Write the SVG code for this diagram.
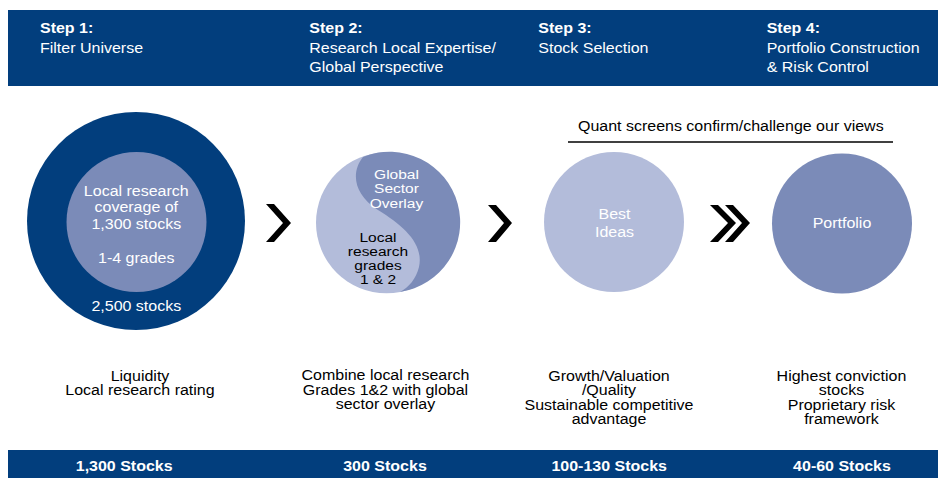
<svg xmlns="http://www.w3.org/2000/svg" width="940" height="478" viewBox="0 0 940 478">
<style>
text{font-family:"Liberation Sans",Arial,Helvetica,sans-serif;font-size:16px;transform:scale(1,0.87);transform-box:fill-box;transform-origin:center}
.hd{fill:#ffffff}
.b{font-weight:bold}
.w{fill:#ffffff;text-anchor:middle}
.k{fill:#000000;text-anchor:middle}
.sm{font-size:15.5px}
.bar{fill:#023e7d}
.mid{fill:#7b8bb8}
.lt{fill:#b3bcda}
.chev{fill:#000000}
</style>
<rect class="bar" x="8" y="10" width="930" height="76"/>
<rect class="bar" x="8" y="450" width="930" height="28"/>

<g id="headers">
<text class="hd b" x="40" y="34">Step 1:</text>
<text class="hd" x="40" y="53.4">Filter Universe</text>
<text class="hd b" x="309.3" y="34">Step 2:</text>
<text class="hd" x="309.3" y="53.4">Research Local Expertise/</text>
<text class="hd" x="309.3" y="72.4">Global Perspective</text>
<text class="hd b" x="538.3" y="34">Step 3:</text>
<text class="hd" x="538.3" y="53.4">Stock Selection</text>
<text class="hd b" x="766.7" y="34">Step 4:</text>
<text class="hd" x="766.7" y="53.4">Portfolio Construction</text>
<text class="hd" x="766.7" y="72.4">&amp; Risk Control</text>
</g>

<g id="node-universe">
<circle class="bar" cx="136" cy="221" r="109"/>
<circle class="mid" cx="136.5" cy="222" r="70"/>
<text class="w" x="136.3" y="196.3">Local research</text>
<text class="w" x="136.3" y="213">coverage of</text>
<text class="w" x="136.3" y="230">1,300 stocks</text>
<text class="w" x="136.3" y="264">1-4 grades</text>
<text class="w" x="136.3" y="312">2,500 stocks</text>
</g>

<g id="node-research">
<circle class="lt" cx="386.5" cy="222.8" r="70.5"/>
<path class="mid" d="M363,157 C351,172 353,194 378,210 C404,226 424,244 419,267 C416,279 409,287 400,292 A70.5,70.5 0 1 0 363,157 Z"/>
<text class="w sm" x="396.5" y="179.7">Global</text>
<text class="w sm" x="396.5" y="194.2">Sector</text>
<text class="w sm" x="396.5" y="208.4">Overlay</text>
<text class="k sm" x="378" y="242.2">Local</text>
<text class="k sm" x="378" y="256.5">research</text>
<text class="k sm" x="378" y="270.6">grades</text>
<text class="k sm" x="378" y="284.8">1 &amp; 2</text>
</g>

<g id="node-best">
<circle class="lt" cx="614" cy="222" r="70"/>
<text class="w" x="614.5" y="219.7">Best</text>
<text class="w" x="614.5" y="238">Ideas</text>
</g>

<g id="node-portfolio">
<circle class="mid" cx="842" cy="223.5" r="70"/>
<text class="w" x="842" y="229">Portfolio</text>
</g>

<g id="quant">
<text class="k" x="730.8" y="131.4">Quant screens confirm/challenge our views</text>
</g>

<g id="connectors">
<line x1="568" y1="142" x2="893" y2="142" stroke="#000" stroke-width="1.5"/>
<polygon class="chev" points="266,204 274,204 291,223 274,242 266,242 283,223"/>
<polygon class="chev" points="488,205 496,205 512,223 496,242 488,242 504,223"/>
<polygon class="chev" points="710,205 718,205 736,223 718,242 710,242 728,223"/>
<polygon class="chev" points="725,205 733,205 750,223 733,242 725,242 742,223"/>
</g>

<g id="descriptions">
<text class="k" x="140" y="381.7">Liquidity</text>
<text class="k" x="140" y="396.2">Local research rating</text>
<text class="k" x="385.5" y="381.2">Combine local research</text>
<text class="k" x="385.5" y="395.7">Grades 1&amp;2 with global</text>
<text class="k" x="385.5" y="410.2">sector overlay</text>
<text class="k" x="609" y="381.7">Growth/Valuation</text>
<text class="k" x="609" y="395.9">/Quality</text>
<text class="k" x="609" y="410.7">Sustainable competitive</text>
<text class="k" x="609" y="425">advantage</text>
<text class="k" x="841.5" y="381.7">Highest conviction</text>
<text class="k" x="841.5" y="396.2">stocks</text>
<text class="k" x="841.5" y="410.7">Proprietary risk</text>
<text class="k" x="841.5" y="425.2">framework</text>
</g>

<g id="counts">
<text class="w b" x="124.2" y="471.4">1,300 Stocks</text>
<text class="w b" x="385" y="471.4">300 Stocks</text>
<text class="w b" x="609.2" y="471.4">100-130 Stocks</text>
<text class="w b" x="842" y="471.4">40-60 Stocks</text>
</g>
</svg>
